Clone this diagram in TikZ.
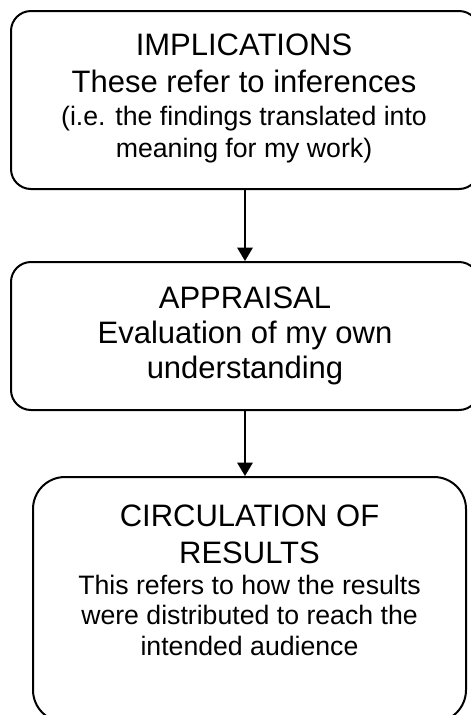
\documentclass[tikz,border=0pt]{standalone}
\usepackage{fontspec}
\setmainfont{Liberation Sans}
\usetikzlibrary{arrows.meta}

\tikzset{
  stagebox/.style={draw=black, line width=1.5pt, rectangle, inner sep=0pt},
  bigline/.style={anchor=base, inner sep=0pt, font=\fontsize{23.25}{27}\selectfont},
  smallline/.style={anchor=base, inner sep=0pt, font=\fontsize{20}{24}\selectfont},
  flowarrow/.style={line width=1.5pt, -{Triangle[width=11.5pt, length=10pt]}},
}

\begin{document}
\begin{tikzpicture}[x=0.75pt, y=-0.75pt]
  \useasboundingbox (0,0) rectangle (471,715);

  % the three stages
  \node[stagebox, rounded corners=15pt, minimum width=468*0.75pt, minimum height=178*0.75pt] (b1) at (245,100) {};
  \node[stagebox, rounded corners=15pt, minimum width=468*0.75pt, minimum height=148*0.75pt] (b2) at (245,336) {};
  \node[stagebox, rounded corners=24pt, minimum width=433*0.75pt, minimum height=245*0.75pt] (b3) at (249.5,599.5) {};

  % first stage text
  \node[bigline]   (t1a) at (244,55)  {IMPLICATIONS};
  \node[bigline]   (t1b) at (244,92)  {These refer to inferences};
  \node[smallline] (t1c) at (244,125) {(i.e. the findings translated into};
  \node[smallline] (t1d) at (244,157) {meaning for my work)};

  % second stage text
  \node[bigline] (t2a) at (245,308) {APPRAISAL};
  \node[bigline] (t2b) at (245,343) {Evaluation of my own};
  \node[bigline] (t2c) at (245,378) {understanding};

  % third stage text
  \node[bigline]   (t3a) at (249.5,526) {CIRCULATION OF};
  \node[bigline]   (t3b) at (249.5,563) {RESULTS};
  \node[smallline] (t3c) at (249.5,594) {This refers to how the results};
  \node[smallline] (t3d) at (249.5,624) {were distributed to reach the};
  \node[smallline] (t3e) at (249.5,655) {intended audience};

  % connectors
  \draw[flowarrow] (b1.south) -- (b2.north);
  \draw[flowarrow] (b2.south) -- (b3.north -| b2.south);
\end{tikzpicture}
\end{document}
